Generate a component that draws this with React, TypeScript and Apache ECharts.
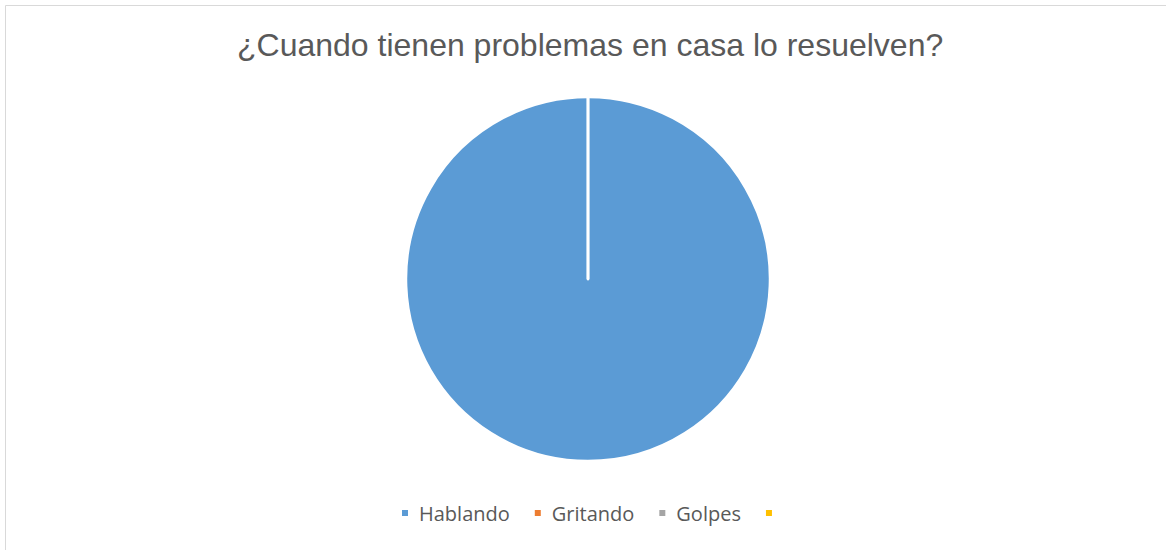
import React, { useEffect, useRef } from "react";
import * as echarts from "echarts";

const categories = ["Hablando", "Gritando", "Golpes", " "];
const values = [100, 0, 0, 0];
const colors = ["#5b9bd5", "#ed7d31", "#a5a5a5", "#ffc000"];
const titleText = "¿Cuando tienen problemas en casa lo resuelven?";

export default function App() {
  const ref = useRef<HTMLDivElement>(null);
  useEffect(() => {
    document.body.style.margin = "0";
    const chart = echarts.init(ref.current!, null, { renderer: "svg" });
    chart.setOption({
      animation: false,
      backgroundColor: "#ffffff",
      title: {
        text: titleText,
        left: 232,
        top: 24,
        textStyle: {
          fontFamily: "Liberation Sans Narrow, Liberation Sans, sans-serif",
          fontSize: 32,
          fontWeight: "normal",
          color: "#595959",
        },
      },
      graphic: [
        {
          type: "rect",
          shape: { x: 5.5, y: 5.5, width: 1170, height: 560 },
          style: { fill: "none", stroke: "#d9d9d9", lineWidth: 1 },
          silent: true,
        },
      ],
      legend: {
        bottom: 22,
        left: 395,
        itemWidth: 8,
        itemHeight: 8,
        itemGap: 23,
        icon: "rect",
        textStyle: {
          fontFamily: "Open Sans, sans-serif",
          fontSize: 20,
          color: "#595959",
          padding: [0, 0, 0, 5],
        },
        data: categories,
      },
      series: [
        {
          type: "pie",
          center: [588, 279],
          radius: 182,
          startAngle: 90,
          clockwise: true,
          label: { show: false },
          labelLine: { show: false },
          emphasis: { disabled: true },
          itemStyle: { borderColor: "#ffffff", borderWidth: 2.5 },
          data: categories.map((c, i) => ({
            name: c,
            value: values[i],
            itemStyle: { color: colors[i] },
          })),
        },
      ],
    });
    return () => chart.dispose();
  }, []);
  return <div ref={ref} style={{ width: 1166, height: 550 }} />;
}
